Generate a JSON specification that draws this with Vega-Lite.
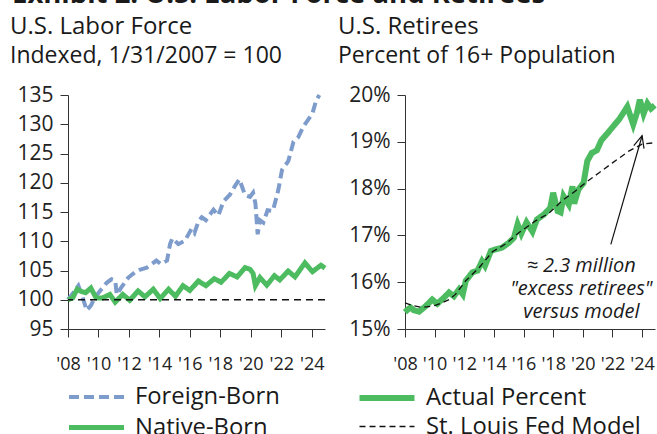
{
  "$schema": "https://vega.github.io/schema/vega-lite/v6.json",
  "background": "white",
  "padding": {"left": 10, "top": -20, "right": 0, "bottom": 0},
  "title": {"text": "Exhibit 2: U.S. Labor Force and Retirees", "anchor": "start", "fontSize": 27.5, "fontWeight": "bold", "font": "Open Sans", "color": "#1a1a1a", "offset": 7, "dx": 2},
  "datasets": {
    "labor": [
      {"year": 2008.0, "series": "Foreign-Born", "value": 100},
      {"year": 2008.35, "series": "Foreign-Born", "value": 101.2},
      {"year": 2008.68, "series": "Foreign-Born", "value": 102.4},
      {"year": 2008.95, "series": "Foreign-Born", "value": 100.5},
      {"year": 2009.23, "series": "Foreign-Born", "value": 98.2},
      {"year": 2009.5, "series": "Foreign-Born", "value": 99},
      {"year": 2009.77, "series": "Foreign-Born", "value": 100.4},
      {"year": 2010.1, "series": "Foreign-Born", "value": 101.5},
      {"year": 2010.54, "series": "Foreign-Born", "value": 102.9},
      {"year": 2010.85, "series": "Foreign-Born", "value": 103.5},
      {"year": 2011.1, "series": "Foreign-Born", "value": 103.3},
      {"year": 2011.2, "series": "Foreign-Born", "value": 100.9},
      {"year": 2011.5, "series": "Foreign-Born", "value": 102.1},
      {"year": 2011.96, "series": "Foreign-Born", "value": 103.8},
      {"year": 2012.4, "series": "Foreign-Born", "value": 104.7},
      {"year": 2012.7, "series": "Foreign-Born", "value": 105.1},
      {"year": 2013.17, "series": "Foreign-Born", "value": 105.5},
      {"year": 2013.5, "series": "Foreign-Born", "value": 106.1},
      {"year": 2013.8, "series": "Foreign-Born", "value": 106.7},
      {"year": 2014.1, "series": "Foreign-Born", "value": 106.1},
      {"year": 2014.5, "series": "Foreign-Born", "value": 106.7},
      {"year": 2014.7, "series": "Foreign-Born", "value": 109.5},
      {"year": 2014.85, "series": "Foreign-Born", "value": 110.5},
      {"year": 2015.24, "series": "Foreign-Born", "value": 109.5},
      {"year": 2015.68, "series": "Foreign-Born", "value": 110.1},
      {"year": 2016.1, "series": "Foreign-Born", "value": 112.1},
      {"year": 2016.3, "series": "Foreign-Born", "value": 111.4},
      {"year": 2016.56, "series": "Foreign-Born", "value": 113.4},
      {"year": 2016.78, "series": "Foreign-Born", "value": 114.1},
      {"year": 2017.05, "series": "Foreign-Born", "value": 113.6},
      {"year": 2017.55, "series": "Foreign-Born", "value": 115.4},
      {"year": 2017.87, "series": "Foreign-Born", "value": 114.4},
      {"year": 2018.2, "series": "Foreign-Born", "value": 116.8},
      {"year": 2018.64, "series": "Foreign-Born", "value": 118.0},
      {"year": 2018.95, "series": "Foreign-Born", "value": 119.4},
      {"year": 2019.25, "series": "Foreign-Born", "value": 120.6},
      {"year": 2019.62, "series": "Foreign-Born", "value": 117.9},
      {"year": 2019.95, "series": "Foreign-Born", "value": 117.6},
      {"year": 2020.15, "series": "Foreign-Born", "value": 118.3},
      {"year": 2020.3, "series": "Foreign-Born", "value": 116.5},
      {"year": 2020.45, "series": "Foreign-Born", "value": 111.2},
      {"year": 2020.6, "series": "Foreign-Born", "value": 113.6},
      {"year": 2020.82, "series": "Foreign-Born", "value": 113.2},
      {"year": 2021.1, "series": "Foreign-Born", "value": 115.3},
      {"year": 2021.45, "series": "Foreign-Born", "value": 115.2},
      {"year": 2021.8, "series": "Foreign-Born", "value": 118.7},
      {"year": 2022.05, "series": "Foreign-Born", "value": 122.2},
      {"year": 2022.46, "series": "Foreign-Born", "value": 123.7},
      {"year": 2022.8, "series": "Foreign-Born", "value": 127},
      {"year": 2023.12, "series": "Foreign-Born", "value": 127.8},
      {"year": 2023.45, "series": "Foreign-Born", "value": 129.6},
      {"year": 2023.8, "series": "Foreign-Born", "value": 130.9},
      {"year": 2024.05, "series": "Foreign-Born", "value": 131.9},
      {"year": 2024.28, "series": "Foreign-Born", "value": 134.0},
      {"year": 2024.5, "series": "Foreign-Born", "value": 135},
      {"year": 2008.0, "series": "Native-Born", "value": 100},
      {"year": 2008.3, "series": "Native-Born", "value": 100.3},
      {"year": 2008.6, "series": "Native-Born", "value": 101.8},
      {"year": 2008.9, "series": "Native-Born", "value": 101.4},
      {"year": 2009.15, "series": "Native-Born", "value": 101.2},
      {"year": 2009.5, "series": "Native-Born", "value": 102},
      {"year": 2009.85, "series": "Native-Born", "value": 100.3},
      {"year": 2010.25, "series": "Native-Born", "value": 100.3},
      {"year": 2010.75, "series": "Native-Born", "value": 100.9},
      {"year": 2011.1, "series": "Native-Born", "value": 99.6},
      {"year": 2011.6, "series": "Native-Born", "value": 100.9},
      {"year": 2012.05, "series": "Native-Born", "value": 99.9},
      {"year": 2012.6, "series": "Native-Born", "value": 101.5},
      {"year": 2013.05, "series": "Native-Born", "value": 100.5},
      {"year": 2013.6, "series": "Native-Born", "value": 101.8},
      {"year": 2014.05, "series": "Native-Born", "value": 100.2},
      {"year": 2014.6, "series": "Native-Born", "value": 101.8},
      {"year": 2015.05, "series": "Native-Born", "value": 100.6},
      {"year": 2015.55, "series": "Native-Born", "value": 102.4},
      {"year": 2016.0, "series": "Native-Born", "value": 101.6},
      {"year": 2016.56, "series": "Native-Born", "value": 103.2},
      {"year": 2017.05, "series": "Native-Born", "value": 102.4},
      {"year": 2017.6, "series": "Native-Born", "value": 103.6},
      {"year": 2018.05, "series": "Native-Born", "value": 103.0},
      {"year": 2018.6, "series": "Native-Born", "value": 104.5},
      {"year": 2019.1, "series": "Native-Born", "value": 103.9},
      {"year": 2019.62, "series": "Native-Born", "value": 105.5},
      {"year": 2019.95, "series": "Native-Born", "value": 105.2},
      {"year": 2020.15, "series": "Native-Born", "value": 104.5},
      {"year": 2020.3, "series": "Native-Born", "value": 102.4},
      {"year": 2020.6, "series": "Native-Born", "value": 103.8},
      {"year": 2021.05, "series": "Native-Born", "value": 102.5},
      {"year": 2021.55, "series": "Native-Born", "value": 104.1},
      {"year": 2021.9, "series": "Native-Born", "value": 103.4},
      {"year": 2022.45, "series": "Native-Born", "value": 104.9},
      {"year": 2022.9, "series": "Native-Born", "value": 103.9},
      {"year": 2023.55, "series": "Native-Born", "value": 106.3},
      {"year": 2024.05, "series": "Native-Born", "value": 104.8},
      {"year": 2024.6, "series": "Native-Born", "value": 105.9},
      {"year": 2024.87, "series": "Native-Born", "value": 105.4}
    ],
    "retirees": [
      {"year": 2008.0, "series": "Actual Percent", "value": 15.36},
      {"year": 2008.2, "series": "Actual Percent", "value": 15.42},
      {"year": 2008.38, "series": "Actual Percent", "value": 15.46},
      {"year": 2008.6, "series": "Actual Percent", "value": 15.4},
      {"year": 2008.95, "series": "Actual Percent", "value": 15.37},
      {"year": 2009.4, "series": "Actual Percent", "value": 15.49},
      {"year": 2009.84, "series": "Actual Percent", "value": 15.63},
      {"year": 2010.18, "series": "Actual Percent", "value": 15.54},
      {"year": 2010.63, "series": "Actual Percent", "value": 15.67},
      {"year": 2010.97, "series": "Actual Percent", "value": 15.78},
      {"year": 2011.3, "series": "Actual Percent", "value": 15.7},
      {"year": 2011.65, "series": "Actual Percent", "value": 15.85},
      {"year": 2011.9, "series": "Actual Percent", "value": 15.74},
      {"year": 2012.1, "series": "Actual Percent", "value": 16.03},
      {"year": 2012.55, "series": "Actual Percent", "value": 16.21},
      {"year": 2012.9, "series": "Actual Percent", "value": 16.25},
      {"year": 2013.2, "series": "Actual Percent", "value": 16.45},
      {"year": 2013.4, "series": "Actual Percent", "value": 16.35},
      {"year": 2013.8, "series": "Actual Percent", "value": 16.67},
      {"year": 2014.1, "series": "Actual Percent", "value": 16.7},
      {"year": 2014.55, "series": "Actual Percent", "value": 16.74},
      {"year": 2015.0, "series": "Actual Percent", "value": 16.84},
      {"year": 2015.35, "series": "Actual Percent", "value": 16.95},
      {"year": 2015.6, "series": "Actual Percent", "value": 17.24},
      {"year": 2015.85, "series": "Actual Percent", "value": 17.04},
      {"year": 2016.2, "series": "Actual Percent", "value": 17.28},
      {"year": 2016.6, "series": "Actual Percent", "value": 17.08},
      {"year": 2016.9, "series": "Actual Percent", "value": 17.34},
      {"year": 2017.39, "series": "Actual Percent", "value": 17.45},
      {"year": 2017.8, "series": "Actual Percent", "value": 17.59},
      {"year": 2018.0, "series": "Actual Percent", "value": 17.91},
      {"year": 2018.3, "series": "Actual Percent", "value": 17.52},
      {"year": 2018.5, "series": "Actual Percent", "value": 17.49},
      {"year": 2018.7, "series": "Actual Percent", "value": 17.84},
      {"year": 2019.05, "series": "Actual Percent", "value": 17.66},
      {"year": 2019.3, "series": "Actual Percent", "value": 18.05},
      {"year": 2019.42, "series": "Actual Percent", "value": 17.68},
      {"year": 2019.7, "series": "Actual Percent", "value": 17.98},
      {"year": 2020.05, "series": "Actual Percent", "value": 18.12},
      {"year": 2020.3, "series": "Actual Percent", "value": 18.59},
      {"year": 2020.6, "series": "Actual Percent", "value": 18.76},
      {"year": 2020.95, "series": "Actual Percent", "value": 18.82},
      {"year": 2021.25, "series": "Actual Percent", "value": 19.03},
      {"year": 2021.66, "series": "Actual Percent", "value": 19.18},
      {"year": 2022.05, "series": "Actual Percent", "value": 19.33},
      {"year": 2022.45, "series": "Actual Percent", "value": 19.48},
      {"year": 2022.7, "series": "Actual Percent", "value": 19.6},
      {"year": 2023.0, "series": "Actual Percent", "value": 19.75},
      {"year": 2023.4, "series": "Actual Percent", "value": 19.37},
      {"year": 2023.65, "series": "Actual Percent", "value": 19.62},
      {"year": 2023.85, "series": "Actual Percent", "value": 19.9},
      {"year": 2024.1, "series": "Actual Percent", "value": 19.6},
      {"year": 2024.36, "series": "Actual Percent", "value": 19.82},
      {"year": 2024.6, "series": "Actual Percent", "value": 19.71},
      {"year": 2024.85, "series": "Actual Percent", "value": 19.78},
      {"year": 2008.0, "series": "St. Louis Fed Model", "value": 15.56},
      {"year": 2008.5, "series": "St. Louis Fed Model", "value": 15.5},
      {"year": 2009.2, "series": "St. Louis Fed Model", "value": 15.46},
      {"year": 2010.0, "series": "St. Louis Fed Model", "value": 15.5},
      {"year": 2010.5, "series": "St. Louis Fed Model", "value": 15.56},
      {"year": 2011.0, "series": "St. Louis Fed Model", "value": 15.63},
      {"year": 2011.4, "series": "St. Louis Fed Model", "value": 15.74},
      {"year": 2012.1, "series": "St. Louis Fed Model", "value": 16.03},
      {"year": 2013.0, "series": "St. Louis Fed Model", "value": 16.31},
      {"year": 2013.9, "series": "St. Louis Fed Model", "value": 16.65},
      {"year": 2014.8, "series": "St. Louis Fed Model", "value": 16.82},
      {"year": 2015.7, "series": "St. Louis Fed Model", "value": 17.06},
      {"year": 2016.8, "series": "St. Louis Fed Model", "value": 17.31},
      {"year": 2017.7, "series": "St. Louis Fed Model", "value": 17.47},
      {"year": 2018.6, "series": "St. Louis Fed Model", "value": 17.74},
      {"year": 2019.5, "series": "St. Louis Fed Model", "value": 17.95},
      {"year": 2020.2, "series": "St. Louis Fed Model", "value": 18.13},
      {"year": 2021.1, "series": "St. Louis Fed Model", "value": 18.34},
      {"year": 2022.0, "series": "St. Louis Fed Model", "value": 18.55},
      {"year": 2023.1, "series": "St. Louis Fed Model", "value": 18.8},
      {"year": 2024.0, "series": "St. Louis Fed Model", "value": 18.95},
      {"year": 2024.85, "series": "St. Louis Fed Model", "value": 18.98}
    ]
  },
  "resolve": {
    "scale": {"color": "independent", "strokeDash": "independent", "strokeWidth": "independent"},
    "legend": {"color": "independent", "strokeDash": "independent", "strokeWidth": "independent"}
  },
  "hconcat": [
    {
      "width": 257,
      "height": 234,
      "title": {"text": "U.S. Labor Force", "subtitle": "Indexed, 1/31/2007 = 100", "anchor": "start", "frame": "group", "dx": -58, "fontSize": 24, "fontWeight": "normal", "subtitleFontSize": 23, "color": "#1a1a1a", "subtitleColor": "#1a1a1a", "subtitlePadding": 6, "offset": 16},
      "layer": [
        {
          "data": {"name": "labor"},
          "mark": {"type": "line"},
          "encoding": {
            "x": {"field": "year", "type": "quantitative", "scale": {"domain": [2008, 2024.87], "nice": false, "zero": false},
              "axis": {"values": [2008, 2010, 2012, 2014, 2016, 2018, 2020, 2022, 2024], "labelExpr": "\"'\" + slice(toString(datum.value), 2)", "labelFontSize": 18, "labelPadding": 18, "labelOverlap": false, "labelFlush": false}},
            "y": {"field": "value", "type": "quantitative", "scale": {"domain": [95, 135], "nice": false, "zero": false},
              "axis": {"values": [95, 100, 105, 110, 115, 120, 125, 130, 135], "labelFontSize": 21, "labelPadding": 7, "labelOverlap": false, "labelFlush": false}},
            "color": {"field": "series", "type": "nominal", "scale": {"domain": ["Foreign-Born", "Native-Born"], "range": ["#7E9CCB", "#4DBB5F"]},
              "legend": {"orient": "none", "legendX": 12, "legendY": 286, "direction": "vertical", "title": null}},
            "strokeDash": {"field": "series", "type": "nominal", "scale": {"domain": ["Foreign-Born", "Native-Born"], "range": [[10, 5], [1, 0]]},
              "legend": {"orient": "none", "legendX": 12, "legendY": 286, "direction": "vertical", "title": null}},
            "strokeWidth": {"field": "series", "type": "nominal", "scale": {"domain": ["Foreign-Born", "Native-Born"], "range": [4, 5]},
              "legend": {"orient": "none", "legendX": 12, "legendY": 286, "direction": "vertical", "title": null}}
          }
        },
        {
          "data": {"values": [{}]},
          "mark": {"type": "rule", "color": "#111", "strokeWidth": 1.3, "strokeDash": [7, 5]},
          "encoding": {"y": {"datum": 100, "type": "quantitative",
            "axis": {"values": [95, 100, 105, 110, 115, 120, 125, 130, 135], "labelFontSize": 21, "labelPadding": 7, "labelOverlap": false, "labelFlush": false}}}
        }
      ]
    },
    {
      "width": 250,
      "height": 234,
      "title": {"text": "U.S. Retirees", "subtitle": "Percent of 16+ Population", "anchor": "start", "frame": "group", "dx": -67, "fontSize": 24, "fontWeight": "normal", "subtitleFontSize": 23, "color": "#1a1a1a", "subtitleColor": "#1a1a1a", "subtitlePadding": 6, "offset": 16},
      "layer": [
        {
          "data": {"name": "retirees"},
          "mark": {"type": "line"},
          "encoding": {
            "x": {"field": "year", "type": "quantitative", "scale": {"domain": [2008, 2024.87], "nice": false, "zero": false},
              "axis": {"values": [2008, 2010, 2012, 2014, 2016, 2018, 2020, 2022, 2024], "labelExpr": "\"'\" + slice(toString(datum.value), 2)", "labelFontSize": 18, "labelPadding": 18, "labelOverlap": false, "labelFlush": false}},
            "y": {"field": "value", "type": "quantitative", "scale": {"domain": [15, 20], "nice": false, "zero": false},
              "axis": {"values": [15, 16, 17, 18, 19, 20], "labelExpr": "datum.value + '%'", "labelFontSize": 21, "labelPadding": 7, "labelOverlap": false, "labelFlush": false}},
            "color": {"field": "series", "type": "nominal", "scale": {"domain": ["Actual Percent", "St. Louis Fed Model"], "range": ["#4DBB5F", "#111111"]},
              "legend": {"orient": "none", "legendX": -35, "legendY": 286, "direction": "vertical", "title": null}},
            "strokeDash": {"field": "series", "type": "nominal", "scale": {"domain": ["Actual Percent", "St. Louis Fed Model"], "range": [[1, 0], [6, 4]]},
              "legend": {"orient": "none", "legendX": -35, "legendY": 286, "direction": "vertical", "title": null}},
            "strokeWidth": {"field": "series", "type": "nominal", "scale": {"domain": ["Actual Percent", "St. Louis Fed Model"], "range": [6, 1.3]},
              "legend": {"orient": "none", "legendX": -35, "legendY": 286, "direction": "vertical", "title": null}}
          }
        },
        {
          "data": {"values": [{}]},
          "layer": [
            {
              "mark": {"type": "rule", "color": "#111", "strokeWidth": 1.2},
              "encoding": {
                "x": {"datum": 2021.89, "type": "quantitative",
                  "axis": {"values": [2008, 2010, 2012, 2014, 2016, 2018, 2020, 2022, 2024], "labelExpr": "\"'\" + slice(toString(datum.value), 2)", "labelFontSize": 18, "labelPadding": 18, "labelOverlap": false, "labelFlush": false}},
                "y": {"datum": 16.81, "type": "quantitative",
                  "axis": {"values": [15, 16, 17, 18, 19, 20], "labelExpr": "datum.value + '%'", "labelFontSize": 21, "labelPadding": 7, "labelOverlap": false, "labelFlush": false}},
                "x2": {"datum": 2024.0},
                "y2": {"datum": 19.13}
              }
            },
            {
              "mark": {"type": "point", "shape": "M-0.45,1L0,0L0.45,1", "filled": false, "size": 560, "angle": 15.7, "stroke": "#111", "strokeWidth": 1.2, "opacity": 1},
              "encoding": {
                "x": {"datum": 2024.0, "type": "quantitative",
                  "axis": {"values": [2008, 2010, 2012, 2014, 2016, 2018, 2020, 2022, 2024], "labelExpr": "\"'\" + slice(toString(datum.value), 2)", "labelFontSize": 18, "labelPadding": 18, "labelOverlap": false, "labelFlush": false}},
                "y": {"datum": 19.13, "type": "quantitative",
                  "axis": {"values": [15, 16, 17, 18, 19, 20], "labelExpr": "datum.value + '%'", "labelFontSize": 21, "labelPadding": 7, "labelOverlap": false, "labelFlush": false}}
              }
            },
            {
              "mark": {"type": "text", "text": ["≈ 2.3 million", "\"excess retirees\"", "versus model"], "fontSize": 20, "fontStyle": "italic", "lineHeight": 23, "align": "center", "baseline": "middle", "color": "#1a1a1a"},
              "encoding": {
                "x": {"datum": 2019.9, "type": "quantitative",
                  "axis": {"values": [2008, 2010, 2012, 2014, 2016, 2018, 2020, 2022, 2024], "labelExpr": "\"'\" + slice(toString(datum.value), 2)", "labelFontSize": 18, "labelPadding": 18, "labelOverlap": false, "labelFlush": false}},
                "y": {"datum": 16.346, "type": "quantitative",
                  "axis": {"values": [15, 16, 17, 18, 19, 20], "labelExpr": "datum.value + '%'", "labelFontSize": 21, "labelPadding": 7, "labelOverlap": false, "labelFlush": false}}
              }
            }
          ]
        }
      ]
    }
  ],
  "spacing": 3,
  "config": {
    "font": "Open Sans",
    "view": {"stroke": null},
    "axis": {"grid": false, "domainColor": "#333", "tickColor": "#333", "tickSize": 8, "labelColor": "#222", "title": null, "labelOverlap": false, "labelFlush": false},
    "legend": {"symbolType": "M-2,0L2,0", "symbolSize": 756, "labelFontSize": 23.8, "labelColor": "#1a1a1a", "labelOffset": 22, "rowPadding": 2, "labelLimit": 400}
  }
}
